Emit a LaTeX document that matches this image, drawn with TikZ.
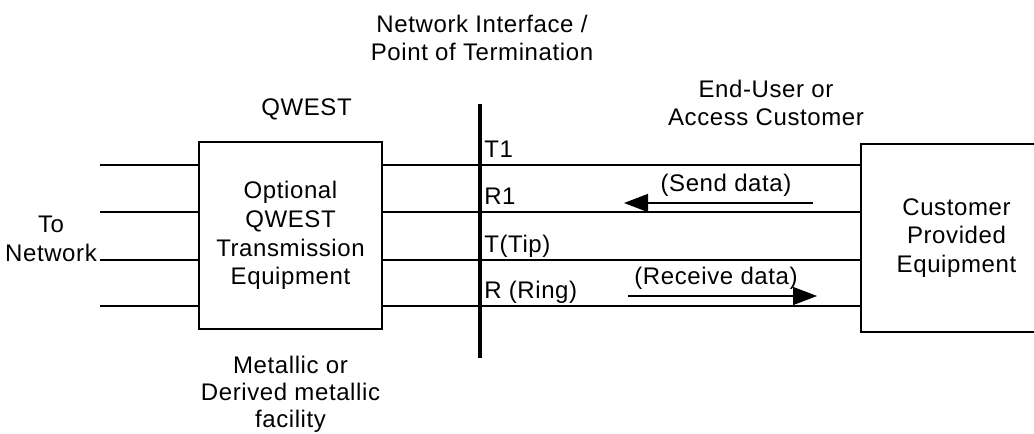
\documentclass[tikz,border=0pt]{standalone}
\usepackage{fontspec}
\setmainfont{Liberation Sans}[LetterSpace=2.5]
\usetikzlibrary{arrows.meta,positioning,calc}
\tikzset{
    block/.style={
        draw,
        rectangle,
        line width=2pt,
        minimum width=137.25pt,
        minimum height=140.25pt,
        align=center
    },
    cpe/.style={
        draw,
        rectangle,
        line width=1.5pt,
        minimum width=143.25pt,
        minimum height=141pt,
        align=center
    },
    wire/.style={
        line width=2.2pt
    },
    thinwire/.style={
        line width=1pt
    },
    interface/.style={
        line width=3pt
    },
    lead/.style={
        anchor=base west,
        inner sep=0pt
    },
    flow/.style={
        line width=1.1pt,
        -{Triangle[length=18pt,width=13.5pt]}
    },
    caption/.style={
        align=center,
        inner sep=0pt
    },
}

\begin{document}
\begin{tikzpicture}[x=0.75pt, y=-0.75pt, font=\fontsize{18}{21.5}\selectfont]
    \useasboundingbox (0,0) rectangle (1034,434);

    % blocks
    \node[block] (qwest) at (290.5,235.5) {Optional\\QWEST\\Transmission\\Equipment};
    \node[cpe] (cpe) at (956.5,238) {Customer\\Provided\\Equipment};

    % interface line
    \coordinate (niTop) at (480,104);
    \coordinate (niBot) at (480,358);
    \draw[interface] (niTop) -- (niBot);

    % wires and leads
    \foreach \y/\name/\txt in {165/t1/T1, 212/r1/R1, 260/t/T(Tip), 306/r/R (Ring)} {
        \coordinate (net\name) at (100,\y);
        \coordinate (ni\name) at (niTop |- 0,\y);
        \draw[wire] (net\name) -- (net\name -| qwest.west);
        \draw[wire] (net\name -| qwest.east) -- (ni\name);
        \draw[thinwire] (ni\name) -- (ni\name -| cpe.west);
        \node[lead] (lead\name) at ($(ni\name)+(4,-7)$) {\txt};
    }

    % captions
    \node[caption] (niLbl) at (482,38) {Network Interface /\\Point of Termination};
    \node[caption] (userLbl) at (766,103) {End-User or\\Access Customer};
    \node[caption, above=15pt of qwest, xshift=12pt] (qwestLbl) {QWEST};
    \node[caption, below=19pt of qwest, font=\fontsize{18}{20.5}\selectfont] (facLbl) {Metallic or\\Derived metallic\\facility};
    \node[caption] (toNet) at (51,239) {To\\Network};

    % data flow
    \coordinate (sendFrom) at (813,203);
    \coordinate (sendTo) at (624,203);
    \coordinate (recvFrom) at (628,296);
    \coordinate (recvTo) at (817,296);
    \draw[flow] (sendFrom) -- (sendTo);
    \draw[flow] (recvFrom) -- (recvTo);
    \node[caption] (sendLbl) at (726,185) {(Send data)};
    \node[caption] (recvLbl) at (716,278) {(Receive data)};
\end{tikzpicture}
\end{document}
